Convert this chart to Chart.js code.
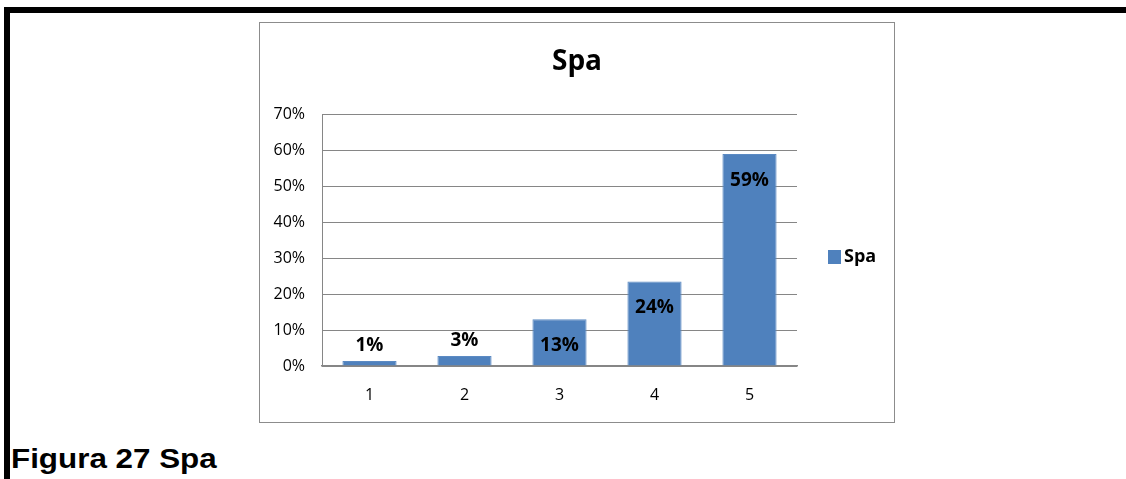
<!DOCTYPE html>
<html>
<head>
<meta charset="utf-8">
<script src="https://cdn.jsdelivr.net/npm/chart.js@4"></script>
<style>
  body { margin: 0; background: #fff; width: 1126px; height: 479px; overflow: hidden; position: relative; }
  #topline { position: absolute; left: 4px; top: 7px; width: 1122px; height: 6px; background: #000; }
  #leftline { position: absolute; left: 4px; top: 7px; width: 6px; height: 472px; background: #000; }
  #box { position: absolute; left: 259px; top: 22px; width: 634px; height: 399px; border: 1px solid #8c8c8c; }
  #caption { position: absolute; left: 11px; top: 443px; font: bold 28px "Liberation Sans", Arial, sans-serif;
             color: #000; transform: scaleX(1.12); transform-origin: left; white-space: nowrap; }
</style>
</head>
<body>
<div id="topline"></div>
<div id="leftline"></div>
<div id="box"><canvas id="result" width="634" height="399"></canvas></div>
<div id="caption">Figura 27 Spa</div>
<script>
const categories = ['1', '2', '3', '4', '5']
const spaValues = [0.014, 0.028, 0.13, 0.235, 0.59]
const valueLabels = ['1%', '3%', '13%', '24%', '59%']
const yTicks = [0, 0.1, 0.2, 0.3, 0.4, 0.5, 0.6, 0.7]

const barColor = '#4f81bd'
const gridColor = '#868686'

// labels on top of / inside each bar
const barLabels = {
  id: 'barLabels',
  afterDatasetsDraw(chart) {
    const ctx = chart.ctx
    const meta = chart.getDatasetMeta(0)
    ctx.save()
    ctx.font = 'bold 19px "Open Sans"'
    ctx.fillStyle = '#000'
    ctx.textAlign = 'center'
    ctx.textBaseline = 'middle'
    meta.data.forEach((bar, i) => {
      const v = spaValues[i]
      const y = v < 0.05 ? bar.y - 15 : bar.y + 26
      ctx.fillText(valueLabels[i], bar.x, y)
    })
    ctx.restore()
  }
}

// legend box on the right
const sideLegend = {
  id: 'sideLegend',
  afterDraw(chart) {
    const ctx = chart.ctx
    const ds = chart.data.datasets[0]
    const cy = 234
    ctx.save()
    ctx.fillStyle = ds.backgroundColor
    ctx.fillRect(568, cy - 7, 13, 14)
    ctx.fillStyle = '#000'
    ctx.font = 'bold 18px "Open Sans"'
    ctx.textAlign = 'left'
    ctx.textBaseline = 'middle'
    ctx.fillText(ds.label, 584, cy)
    ctx.restore()
  }
}

const ctx = document.getElementById('result').getContext('2d')
new Chart(ctx, {
  type: 'bar',
  data: {
    labels: categories,
    datasets: [{
      label: 'Spa',
      data: spaValues,
      backgroundColor: barColor,
      borderColor: '#5b8ac3',
      borderWidth: 1,
      barPercentage: 0.57,
      categoryPercentage: 1
    }]
  },
  options: {
    responsive: false,
    animation: false,
    layout: { padding: 0 },
    plugins: {
      legend: { display: false },
      tooltip: { enabled: false },
      title: {
        display: true,
        text: 'Spa',
        color: '#000',
        font: { family: 'Open Sans', size: 28, weight: 'bold' },
        padding: { top: 22, bottom: 36 }
      }
    },
    scales: {
      x: {
        grid: { display: false, drawTicks: false },
        border: { color: gridColor, width: 1.5 },
        ticks: { color: '#000', padding: 20, font: { family: 'Open Sans', size: 16 } },
        afterFit(scale) { scale.height = 56 }
      },
      y: {
        min: 0,
        max: 0.7,
        afterBuildTicks(scale) { scale.ticks = yTicks.map((v) => ({ value: v })) },
        grid: { color: gridColor, drawTicks: false },
        border: { color: gridColor },
        ticks: {
          color: '#000',
          padding: 17,
          font: { family: 'Open Sans', size: 16 },
          callback: (v) => Math.round(v * 100) + '%'
        },
        afterFit(scale) { scale.width = 62 }
      },
      // empty axis that keeps room for the legend on the right
      side: {
        position: 'right',
        min: 0,
        max: 0.7,
        grid: { display: false, drawTicks: false },
        border: { display: false },
        ticks: { display: false },
        afterFit(scale) { scale.width = 97 }
      }
    }
  },
  plugins: [barLabels, sideLegend]
})
</script>
</body>
</html>
